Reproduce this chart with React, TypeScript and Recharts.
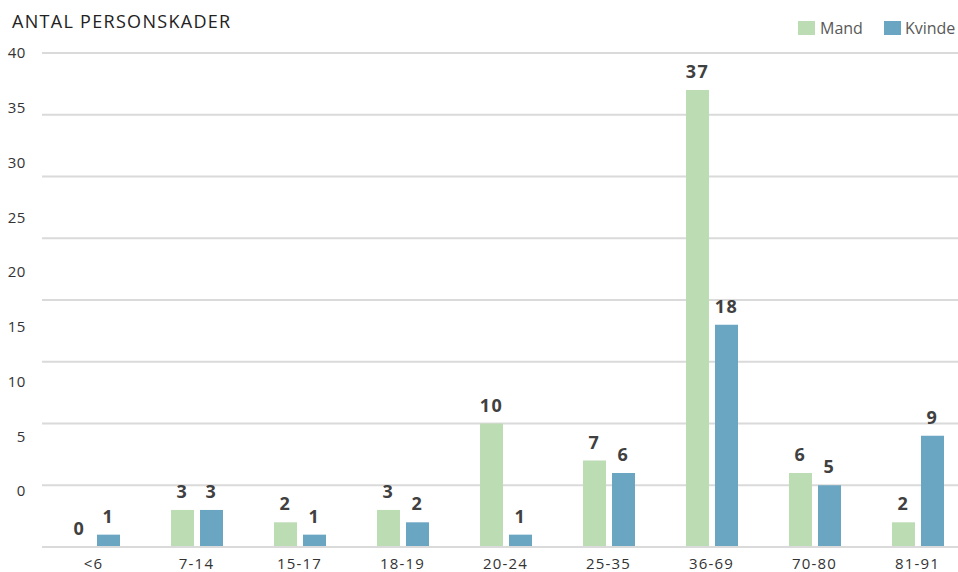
import React from "react";
import {
  BarChart, Bar, XAxis, YAxis, CartesianGrid, LabelList,
} from "recharts";

const ageGroups = ["<6", "7-14", "15-17", "18-19", "20-24", "25-35", "36-69", "70-80", "81-91"];
const mand = [0, 3, 2, 3, 10, 7, 37, 6, 2];
const kvinde = [1, 3, 1, 2, 1, 6, 18, 5, 9];
const yTicks = [0, 5, 10, 15, 20, 25, 30, 35, 40];

const GREEN = "#bcdcb4";
const BLUE = "#6aa5c2";
const FONT = "'Open Sans', 'Noto Sans', sans-serif";

const data = ageGroups.map((g, i) => ({ group: g, Mand: mand[i], Kvinde: kvinde[i] }));

// the source squeezes its y labels: they don't sit on the gridlines
const YTick = ({ x, y, payload }: any) => {
  const v = payload.value;
  const shift = -(40 - v) * 1.4;
  return (
    <text x={x} y={y + shift} dy="0.35em" textAnchor="end" fill="#333" fontSize={15} letterSpacing={0.6} fontFamily={FONT}>
      {v}
    </text>
  );
};

// zero-valued bars get a hairline so their "0" label still shows
const keepZero = (value: any) => (value === 0 ? 0.01 : 0);

const labelStyle = { fill: "#404040", fontSize: 18, fontWeight: 700, fontFamily: FONT, letterSpacing: 1.5 };

export default function App() {
  return (
    <div style={{ position: "absolute", left: 0, top: 0, width: 958, height: 572, overflow: "hidden", background: "#fff" }}>
      <div style={{ position: "absolute", left: 12, top: 9, fontFamily: FONT, fontSize: 18, color: "#222", letterSpacing: 1.3 }}>
        ANTAL PERSONSKADER
      </div>
      <div style={{ position: "absolute", left: 798, top: 17, display: "flex", alignItems: "center", fontFamily: FONT, fontSize: 16, color: "#595959", whiteSpace: "nowrap" }}>
        <span style={{ width: 17, height: 14, background: GREEN, display: "inline-block", marginRight: 5 }} />
        <span style={{ marginRight: 21 }}>Mand</span>
        <span style={{ width: 17, height: 14, background: BLUE, display: "inline-block", marginRight: 4 }} />
        <span>Kvinde</span>
      </div>
      <BarChart
        width={990}
        height={572}
        data={data}
        margin={{ top: 53, right: 21, left: 0, bottom: 0 }}
        barSize={23}
        barGap={6}
      >
        <CartesianGrid vertical={false} stroke="#dadada" strokeWidth={2} />
        <XAxis
          dataKey="group"
          height={25}
          axisLine={{ stroke: "#dadada", strokeWidth: 2 }}
          tickLine={false}
          tickSize={0}
          tickMargin={11}
          tick={{ fill: "#333", fontSize: 15, fontFamily: FONT, letterSpacing: 1.2 }}
          interval={0}
        />
        <YAxis
          width={42}
          domain={[0, 40]}
          ticks={yTicks}
          axisLine={false}
          tickLine={false}
          tickSize={0}
          tickMargin={16}
          tick={<YTick />}
        />
        <Bar dataKey="Mand" fill={GREEN} minPointSize={keepZero} isAnimationActive={false}>
          <LabelList dataKey="Mand" position="top" offset={12} {...labelStyle} />
        </Bar>
        <Bar dataKey="Kvinde" fill={BLUE} isAnimationActive={false}>
          <LabelList dataKey="Kvinde" position="top" offset={12} {...labelStyle} />
        </Bar>
      </BarChart>
    </div>
  );
}
